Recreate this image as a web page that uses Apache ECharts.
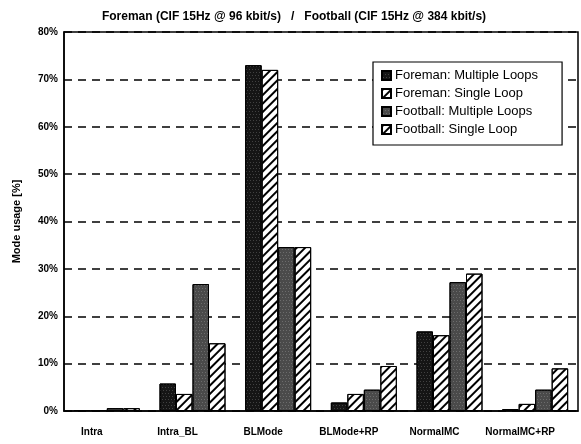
<!DOCTYPE html>
<html><head><meta charset="utf-8">
<script src="https://cdn.jsdelivr.net/npm/echarts@6/dist/echarts.min.js"></script>
<style>html,body{margin:0;padding:0;background:#fff}#c{width:581px;height:444px}</style>
</head><body><div id="c"></div>
<script>
const categories = ["Intra", "Intra_BL", "BLMode", "BLMode+RP", "NormalMC", "NormalMC+RP"];
const seriesNames = ["Foreman: Multiple Loops", "Foreman: Single Loop", "Football: Multiple Loops", "Football: Single Loop"];
const foremanMultiple = [0.2, 5.8, 73.0, 1.8, 16.8, 0.4];
const foremanSingle   = [0.2, 3.6, 72.0, 3.6, 16.0, 1.5];
const footballMultiple= [0.6, 26.8, 34.6, 4.5, 27.2, 4.5];
const footballSingle  = [0.6, 14.3, 34.6, 9.5, 29.0, 9.0];
const yTicks = [0, 10, 20, 30, 40, 50, 60, 70, 80];
const titleText = "Foreman (CIF 15Hz @ 96 kbit/s)   /   Football (CIF 15Hz @ 384 kbit/s)";

const hatch = {symbol:'rect', symbolSize:1, color:'#000', dashArrayX:[1,0], dashArrayY:[2,4], rotation:-Math.PI/4};
const stipple = {symbol:'circle', symbolSize:0.7, color:'rgba(255,255,255,0.75)', dashArrayX:[[1,2],[0,1,1,1]], dashArrayY:[1,2], rotation:0};
const styles = [
  {color:'#151515', borderColor:'#000', borderWidth:1, decal:stipple},
  {color:'#fff', borderColor:'#000', borderWidth:1, decal:hatch},
  {color:'#4a4a4a', borderColor:'#000', borderWidth:1, decal:stipple},
  {color:'#fff', borderColor:'#000', borderWidth:1, decal:hatch}
];
const data = [foremanMultiple, foremanSingle, footballMultiple, footballSingle];
const chart = echarts.init(document.getElementById('c'), null, {renderer:'canvas'});
chart.setOption({
  animation:false,
  aria:{decal:{show:true}},
  title:{text:titleText, left:289, top:6, textAlign:'center',
    textStyle:{fontFamily:'Liberation Sans', fontSize:12, fontWeight:'bold', color:'#000'}},
  legend:{orient:'vertical', left:373, top:62, itemWidth:9, itemHeight:9, itemGap:5,
    padding:[7,24,9,8], backgroundColor:'#fff', borderColor:'#000', borderWidth:1.2,
    icon:'rect',
    textStyle:{fontFamily:'Liberation Sans', fontSize:13, color:'#000', padding:[0,0,0,-1]},
    data:seriesNames},
  grid:{left:64, right:3, top:32, bottom:33, show:true, borderColor:'#000', borderWidth:1.5},
  xAxis:{type:'category', data:categories,
    axisLine:{lineStyle:{color:'#000', width:1.5}}, axisTick:{show:false},
    axisLabel:{color:'#000', fontFamily:'Liberation Sans', fontSize:10, fontWeight:'bold', margin:16, padding:[0,30,0,0], interval:0}},
  yAxis:{type:'value', min:0, max:80, interval:10,
    name:'Mode usage [%]', nameLocation:'middle', nameGap:42,
    nameTextStyle:{fontFamily:'Liberation Sans', fontSize:11, fontWeight:'bold', color:'#000'},
    axisLine:{show:true, lineStyle:{color:'#000', width:1.5}}, axisTick:{show:false},
    axisLabel:{color:'#000', fontFamily:'Liberation Sans', fontSize:10, fontWeight:'bold', margin:6,
      formatter:function(v){return yTicks.indexOf(v)>=0 ? v+'%' : '';}},
    splitLine:{show:true, lineStyle:{color:'#000', type:[8,6], width:1.5}}},
  series:data.map(function(d,i){return {name:seriesNames[i], type:'bar', data:d, barWidth:16.5, barGap:'0%', itemStyle:styles[i]};})
});
</script></body></html>
